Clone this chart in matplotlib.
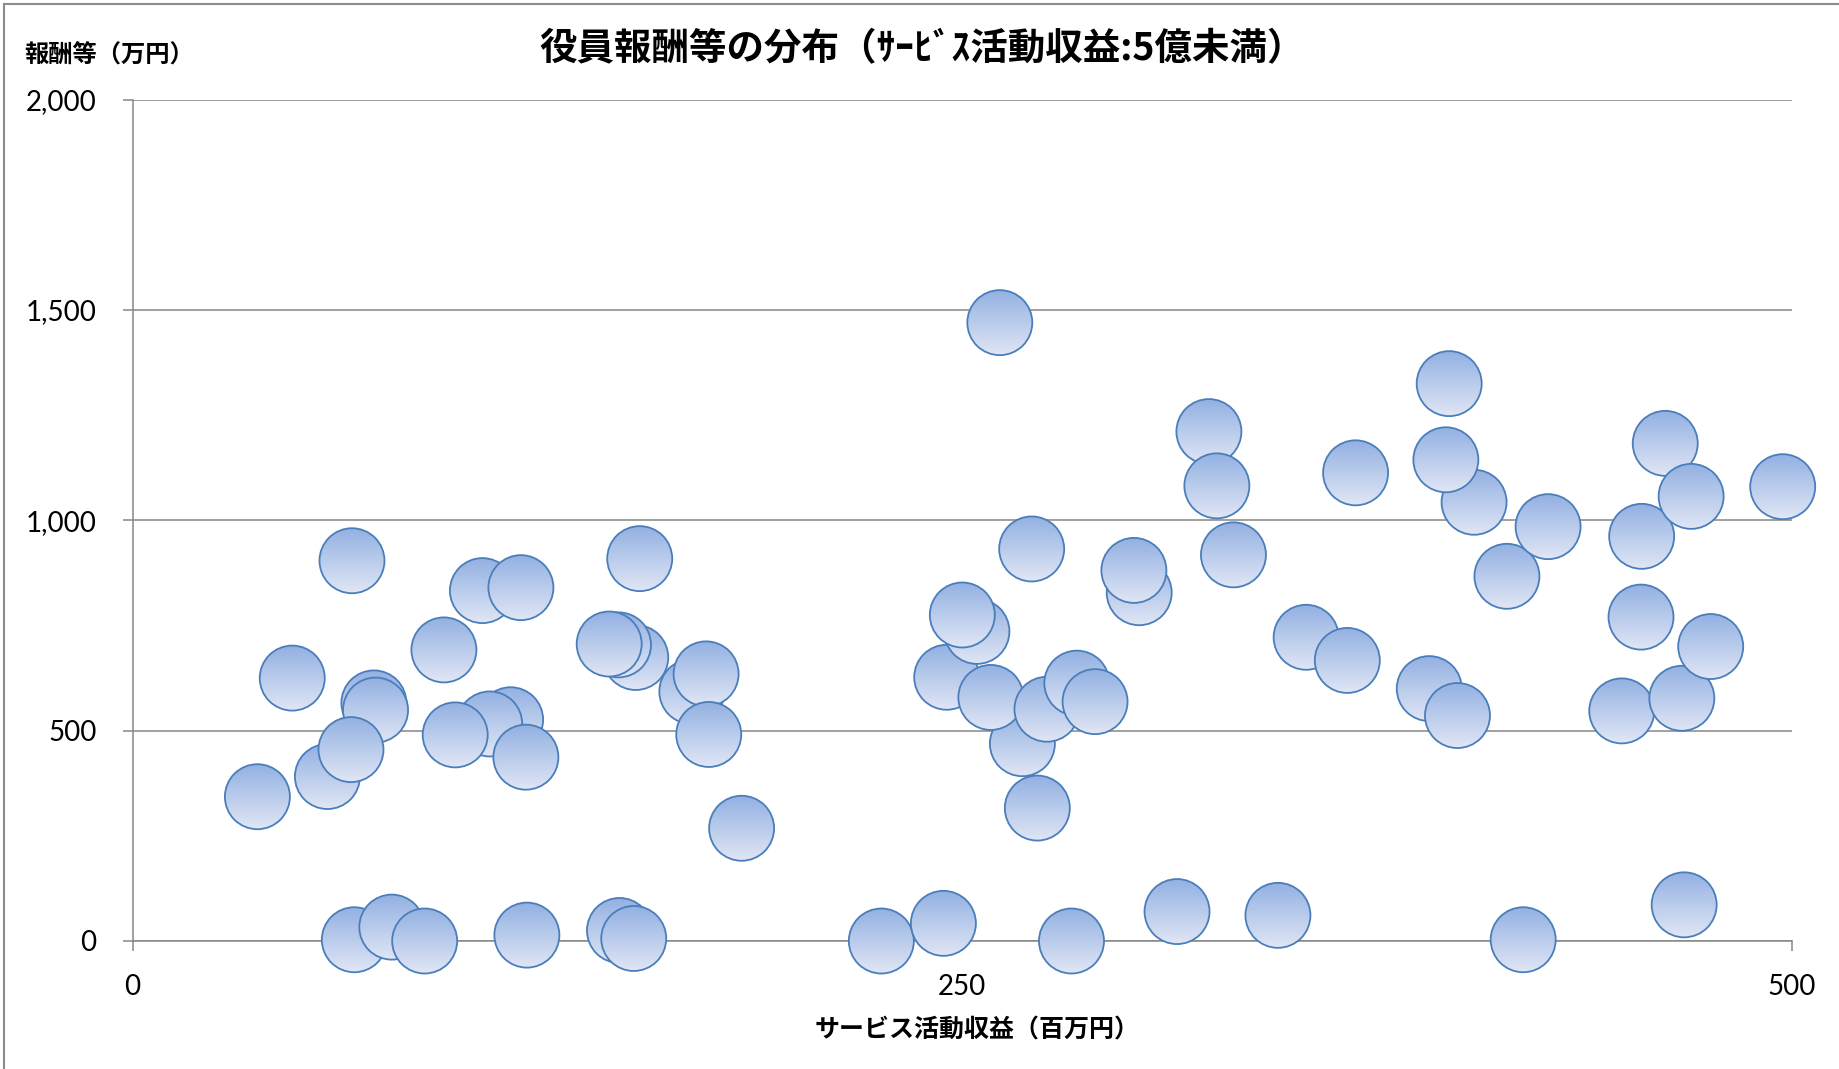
import numpy as np
import matplotlib
matplotlib.use('Agg')
import matplotlib.pyplot as plt
from matplotlib.patches import Circle
from matplotlib.colors import to_rgb

plt.rcParams['font.family'] = ['Noto Sans CJK JP', 'DejaVu Sans']

# サービス活動収益（百万円）と役員報酬等（万円）  順番 = 描画順（後ろほど上）
shueki = [37.6, 48.1, 58.7, 66.1, 66.8, 72.7, 73.2, 65.8, 78.1, 88.0,
          93.8, 105.4, 117.0, 113.9, 107.6, 97.2, 118.5, 118.8,
          151.6, 146.4, 143.6, 146.7, 151.0, 152.8, 168.5, 172.8, 173.6, 183.5,
          225.6, 244.3, 245.3, 268.1, 258.6, 254.4, 250.0, 261.3, 270.9, 272.6,
          275.5, 282.9, 284.5, 290.0, 303.3, 301.7, 314.7, 324.3, 326.7, 331.7,
          345.1, 353.6, 366.0, 368.5, 390.7, 399.2, 404.2, 396.7, 395.7, 414.1,
          419.0, 426.5, 448.7, 454.7, 454.5, 461.8, 466.8, 467.5, 469.6, 475.5,
          497.2]
hoshu = [343, 625, 391, 904, 3, 566, 549, 455, 33, 0,
         692, 833, 840, 526, 516, 490, 437, 14,
         674, 704, 706, 25, 6, 909, 593, 635, 491, 268,
         0, 42, 627, 469, 579, 736, 775, 1470, 932, 316,
         551, 0, 613, 569, 828, 881, 70, 1211, 1082, 918,
         61, 722, 667, 1113, 600, 536, 1043, 1325, 1144, 867,
         3, 985, 547, 962, 770, 1183, 577, 86, 1057, 700,
         1080]

x_ticks = [0, 250, 500]
y_ticks = [0, 500, 1000, 1500, 2000]

W, H = 1840, 1069
fig = plt.figure(figsize=(W / 100, H / 100), dpi=100)
ax = fig.add_axes([0.07207, 0.11974, 0.90185, 0.787])
ax.set_xlim(0, 500)
ax.set_ylim(0, 2000)

grid_c = '#868686'
ax.set_yticks(y_ticks)
ax.set_yticklabels([f'{v:,}' for v in y_ticks], family='Lato', fontsize=20)
ax.set_xticks(x_ticks)
ax.set_xticklabels([str(v) for v in x_ticks], family='Lato', fontsize=20)
ax.tick_params(axis='y', length=7, width=1.1, color=grid_c, pad=19)
ax.tick_params(axis='x', length=7, width=1.1, color=grid_c, pad=17)
ax.yaxis.grid(True, color=grid_c, lw=1.1)
ax.set_axisbelow(True)
for s in ['top', 'right']:
    ax.spines[s].set_visible(False)
for s in ['left', 'bottom']:
    ax.spines[s].set_color(grid_c)
    ax.spines[s].set_linewidth(1.1)

# タイトル・軸ラベル
fig.text(922 / W, 1 - 49 / H, '役員報酬等の分布（ｻｰﾋﾞｽ活動収益:5億未満）',
         ha='center', va='center', fontsize=27, fontweight='bold')
fig.text(24 / W, 1 - 56 / H, '報酬等（万円）', ha='left', va='center',
         fontsize=17.5, fontweight='bold')
fig.text(977 / W, 1 - 1030 / H, 'サービス活動収益（百万円）', ha='center',
         va='center', fontsize=18, fontweight='bold')

# グラフエリアの枠（左と上のみ見える）
fig.add_artist(plt.Line2D([4 / W, 4 / W], [0, 1 - 4 / H], color='#8c8c8c', lw=1.5))
fig.add_artist(plt.Line2D([4 / W, 1], [1 - 4 / H, 1 - 4 / H], color='#8c8c8c', lw=1.5))

# グラデーションのマーカー（ピクセル座標の重ね合わせ用Axes）
ov = fig.add_axes([0, 0, 1, 1])
ov.set_xlim(0, W)
ov.set_ylim(0, H)
ov.axis('off')

top = np.array(to_rgb('#93b1e2'))
bot = np.array(to_rgb('#e0e6f5'))
t = np.linspace(0, 1, 64)[:, None]
grad = (bot * (1 - t) + top * t)[:, None, :]

R = 32.5
centers = ax.transData.transform(np.column_stack([shueki, hoshu]))
for i, (cx, cy) in enumerate(centers):
    z = 2 + i * 0.01
    c = Circle((cx, cy), R, facecolor='none', edgecolor='none')
    ov.add_patch(c)
    im = ov.imshow(grad, extent=(cx - R, cx + R, cy - R, cy + R), origin='lower',
                   aspect='auto', interpolation='bilinear', zorder=z)
    im.set_clip_path(c)
    ov.add_patch(Circle((cx, cy), R, facecolor='none', edgecolor='#4a7ebb',
                        lw=1.3, zorder=z + 0.005))
ov.set_xlim(0, W)
ov.set_ylim(0, H)

fig.savefig('out.png', dpi=100)
